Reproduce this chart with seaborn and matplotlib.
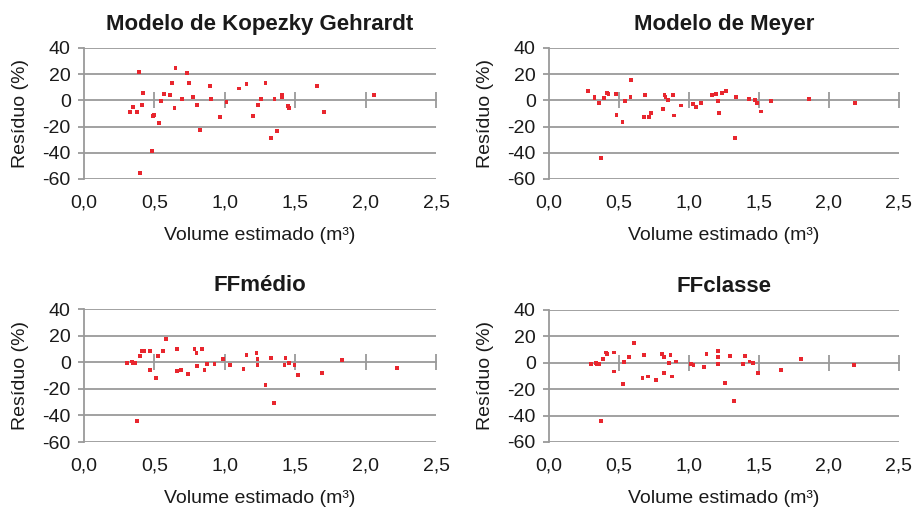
import matplotlib
matplotlib.use("Agg")
import numpy as np
import pandas as pd
import seaborn as sns
import matplotlib.pyplot as plt


# Kopezky Gehrardt
kg_x = [0.326, 0.345, 0.374, 0.388, 0.400, 0.409, 0.416, 0.485, 0.487, 0.497,
        0.535, 0.544, 0.570, 0.608, 0.622, 0.643, 0.650, 0.695, 0.731, 0.743,
        0.776, 0.804, 0.821, 0.892, 0.903, 0.963, 1.012, 1.100, 1.154, 1.199,
        1.235, 1.254, 1.289, 1.325, 1.353, 1.369, 1.407, 1.407, 1.450, 1.459,
        1.658, 1.703, 2.062]
kg_y = [-9.1, -4.8, -9.1, 21.8, -55.4, -3.8, 5.8, -38.5, -12.2, -11.1,
        -17.5, -0.5, 4.6, 3.8, 13.2, -5.8, 24.8, 0.8, 20.8, 13.2,
        2.5, -3.8, -22.8, 11.1, 0.8, -12.9, -1.5, 9.1, 12.2, -11.9,
        -3.8, 0.8, 13.2, -28.6, 0.8, -23.3, 4.1, 2.3, -4.3, -5.8,
        11.1, -9.1, 3.8]

# Meyer
my_x = [0.280, 0.325, 0.325, 0.354, 0.371, 0.390, 0.416, 0.425, 0.480, 0.482,
        0.525, 0.544, 0.582, 0.589, 0.677, 0.689, 0.715, 0.730, 0.813, 0.825,
        0.832, 0.853, 0.887, 0.896, 0.941, 1.031, 1.050, 1.086, 1.167, 1.195,
        1.210, 1.212, 1.238, 1.267, 1.328, 1.338, 1.431, 1.471, 1.483, 1.511,
        1.583, 1.854, 2.189]
my_y = [7.0, 2.9, 1.9, -2.1, -44.3, 1.9, 6.0, 5.0, 5.0, -10.8,
        -16.3, -0.5, 2.9, 15.4, -12.5, 4.0, -12.5, -9.7, -6.7, 4.0,
        2.9, 0.1, 4.0, -11.5, -3.9, -2.9, -4.7, -1.9, 4.0, 5.0,
        -0.5, -9.7, 6.0, 7.0, -28.8, 2.9, 0.9, 0.1, -1.9, -8.5,
        -0.8, 0.9, -1.9]

# FFmedio
fm_x = [0.305, 0.341, 0.345, 0.360, 0.378, 0.395, 0.414, 0.426, 0.468, 0.471,
        0.513, 0.523, 0.558, 0.584, 0.658, 0.660, 0.686, 0.738, 0.785, 0.799,
        0.802, 0.837, 0.856, 0.873, 0.927, 0.989, 1.034, 1.133, 1.154, 1.225,
        1.232, 1.232, 1.289, 1.325, 1.351, 1.424, 1.431, 1.459, 1.495, 1.523,
        1.691, 1.835, 2.223]
fm_y = [-0.3, 0.5, -0.6, -0.6, -43.9, 4.5, 8.3, 8.3, 8.3, -5.8,
        -11.6, 4.5, 8.3, 17.6, 9.8, -6.9, -5.8, -8.9, 9.8, 7.0,
        -3.1, 9.8, -5.8, -1.6, -1.6, 2.2, -2.3, -5.3, 5.2, 7.0,
        2.2, -2.3, -17.4, 3.5, -30.5, -2.3, 3.5, -0.3, -2.3, -9.9,
        -7.9, 1.4, -4.1]

# FFclasse
fc_x = [0.300, 0.335, 0.340, 0.354, 0.373, 0.383, 0.409, 0.416, 0.461, 0.461,
        0.526, 0.533, 0.571, 0.607, 0.668, 0.680, 0.706, 0.761, 0.804, 0.823,
        0.823, 0.854, 0.868, 0.878, 0.904, 1.016, 1.032, 1.104, 1.125, 1.204,
        1.204, 1.204, 1.258, 1.296, 1.323, 1.384, 1.403, 1.432, 1.458, 1.494,
        1.655, 1.801, 2.181]
fc_y = [-1.0, 0.0, -1.0, -1.0, -44.1, 3.0, 7.8, 6.8, 7.8, -6.6,
        -16.2, 0.3, 4.1, 14.7, -11.4, 5.8, -10.4, -13.2, 6.8, 4.1,
        -7.6, 0.0, 5.8, -10.4, 1.0, -1.0, -1.8, -3.5, 6.8, 8.9,
        4.1, -1.0, -15.2, 5.1, -28.6, -1.0, 5.1, 1.0, 0.0, -7.6,
        -5.6, 3.0, -1.8]

titles = ["Modelo de Kopezky Gehrardt", "Modelo de Meyer", "FFmédio", "FFclasse"]
series = [(kg_x, kg_y), (my_x, my_y), (fm_x, fm_y), (fc_x, fc_y)]

x_ticks = [0.0, 0.5, 1.0, 1.5, 2.0, 2.5]
x_labels = ["0,0", "0,5", "1,0", "1,5", "2,0", "2,5"]
y_ticks = [-60, -40, -20, 0, 20, 40]

sns.set_theme(style="white")
plt.rcParams["font.family"] = ["Liberation Sans", "DejaVu Sans"]

grey = "#9a9a9a"
red = "#e8262e"
ink = "#1a1a1a"

fig = plt.figure(figsize=(9.19, 5.09), dpi=100)
W, H = 919, 509
boxes = [(84, 48, 436, 179), (549, 48, 899, 179),
         (84, 309, 436, 442), (549, 310, 899, 442)]

for (l, t, r, b), title, (xs, ys) in zip(boxes, titles, series):
    ax = fig.add_axes([l / W, 1 - b / H, (r - l) / W, (b - t) / H])
    df = pd.DataFrame({"x": xs, "y": ys})
    sns.scatterplot(data=df, x="x", y="y", ax=ax, marker="s", s=8,
                    color=red, edgecolor="none", zorder=3)

    ax.set_xlim(0, 2.5)
    ax.set_ylim(-60, 40)

    # horizontal gridlines
    for yv in y_ticks:
        if yv != 0:
            ax.axhline(yv, color=grey, lw=1.3, zorder=1)

    # x axis crosses at zero (Excel style)
    for s in ["top", "right"]:
        ax.spines[s].set_visible(False)
    ax.spines["bottom"].set_position(("data", 0))
    ax.spines["bottom"].set_color(grey)
    ax.spines["bottom"].set_linewidth(1.3)
    ax.spines["left"].set_color(grey)
    ax.spines["left"].set_linewidth(1.3)
    ax.set_xticks(x_ticks[1:])
    ax.tick_params(axis="x", direction="inout", length=11, width=1.3,
                   color=grey, labelbottom=False, bottom=True)

    ax.set_yticks(y_ticks)
    ax.set_yticklabels([str(v) for v in y_ticks])
    ax.tick_params(axis="y", direction="out", length=4.5, width=1.3,
                   color=grey, left=True, labelsize=14, pad=5,
                   labelcolor=ink)

    sec = ax.secondary_xaxis("bottom")
    sec.set_xticks(x_ticks)
    sec.set_xticklabels(x_labels)
    sec.spines["bottom"].set_visible(False)
    sec.tick_params(length=0, labelsize=14, pad=11, labelcolor=ink)
    sec.set_xlabel("Volume estimado (m³)", fontsize=14, labelpad=11,
                   color=ink)

    ax.set_xlabel("")
    ax.set_ylabel("Resíduo (%)", fontsize=14, labelpad=10, color=ink)
    ax.set_title(title, fontsize=16, fontweight="bold", pad=13, color=ink)

plt.savefig("out.png", dpi=100)
plt.close()
